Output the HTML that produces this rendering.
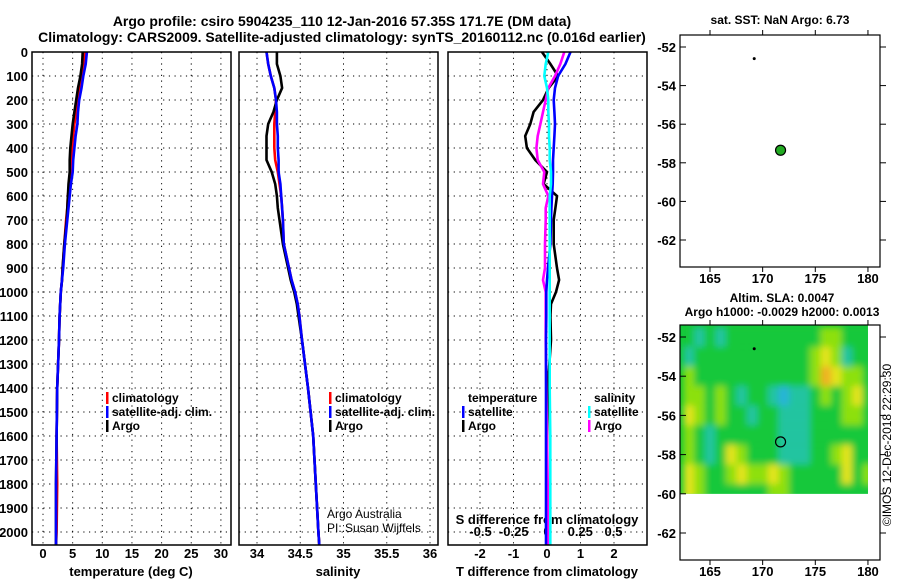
<!DOCTYPE html>
<html><head><meta charset="utf-8"><style>
html,body{margin:0;padding:0;background:#fff;}
svg{display:block;font-family:"Liberation Sans",sans-serif;}
.t{font-weight:bold;font-size:13px;fill:#000;}
</style></head><body>
<svg id="c" width="900" height="580" viewBox="0 0 900 580">
<text x="342" y="26" text-anchor="middle" class="t" style="font-size:14px">Argo profile: csiro 5904235_110 12-Jan-2016 57.35S 171.7E (DM data)</text>
<text x="342" y="42" text-anchor="middle" class="t" style="font-size:14px">Climatology: CARS2009. Satellite-adjusted climatology: synTS_20160112.nc (0.016d earlier)</text>
<g id="g"></g>
</svg>
<script>
// ---- data ----
const depthTicks=[0,100,200,300,400,500,600,700,800,900,1000,1100,1200,1300,1400,1500,1600,1700,1800,1900,2000];
const tempTicks=[0,5,10,15,20,25,30];
const salTicks=[34,34.5,35,35.5,36];
const tdiffTicks=[-2,-1,0,1,2];
const sdiffTicks=[-0.5,-0.25,0,0.25,0.5];
const depths=[0,50,100,150,200,250,300,350,400,450,500,550,600,650,700,800,900,950,1000,1050,1100,1200,1400,1600,1800,2000,2055];
const tempArgo=[6.7,6.6,6.3,5.9,5.6,5.3,5.0,4.8,4.6,4.5,4.5,4.3,4.2,4.1,4.0,3.6,3.3,3.2,3.0,2.9,2.8,2.7,2.4,2.3,2.2,2.2,2.2];
const tempClim=[7.1,6.8,6.5,6.2,5.9,5.6,5.3,5.1,4.9,4.7,4.6,4.4,4.2,4.1,3.9,3.6,3.3,3.2,3.0,2.9,2.8,2.7,2.4,2.3,2.4,2.3,2.2];
const tempSat=[7.4,7.2,6.8,6.5,6.1,5.9,5.8,5.5,5.3,5.1,5.0,4.7,4.5,4.3,4.1,3.7,3.4,3.2,3.0,2.9,2.8,2.7,2.4,2.3,2.2,2.2,2.2];
const salArgo=[34.23,34.23,34.27,34.29,34.23,34.19,34.13,34.11,34.11,34.11,34.17,34.21,34.23,34.24,34.26,34.30,34.36,34.39,34.43,34.46,34.48,34.52,34.59,34.65,34.68,34.71,34.72];
const salClim=[34.11,34.13,34.16,34.20,34.22,34.21,34.20,34.20,34.20,34.21,34.24,34.26,34.28,34.29,34.30,34.31,34.37,34.40,34.44,34.47,34.49,34.52,34.59,34.65,34.68,34.71,34.72];
const salSat=[34.11,34.13,34.16,34.20,34.22,34.23,34.23,34.24,34.24,34.25,34.25,34.27,34.28,34.29,34.30,34.31,34.37,34.40,34.44,34.47,34.49,34.52,34.59,34.65,34.68,34.71,34.72];
const dTargo=[-0.15,0.1,0.33,0.05,-0.12,-0.4,-0.5,-0.65,-0.6,-0.35,0,-0.1,0.3,0.25,0.2,0.2,0.3,0.36,0.27,0.12,0.1,0.12,0.02,0,0,0,0];
const dTsat=[0.7,0.55,0.33,0.24,0.2,0.22,0.24,0.22,0.2,0.18,0.18,0.17,0.15,0.13,0.12,0.1,0.03,0,-0.02,-0.02,-0.02,-0.03,-0.03,-0.03,-0.03,-0.03,-0.03];
const dSargo=[0.13,0.1,0.06,0.01,-0.01,-0.03,-0.05,-0.07,-0.08,-0.07,-0.02,-0.03,0.01,-0.01,-0.01,-0.015,-0.015,-0.03,-0.01,-0.01,-0.01,-0.01,-0.005,0,0.005,0.01,0.01];
const dSsat=[0.01,-0.01,-0.02,0,0.01,0.01,0.015,0.015,0.02,0.02,0.03,0.03,0.02,0.02,0.02,0.02,0.02,0.02,0.02,0.02,0.02,0.02,0.02,0.025,0.025,0.025,0.025];
const latTicks=[-52,-54,-56,-58,-60,-62];
const lonTicks=[165,170,175,180];
const heatLons=[163,164,165,166,167,168,169,170,171,172,173,174,175,176,177,178,179,180];
const heatLats=[-52,-53,-54,-55,-56,-57,-58,-59,-60];
const heatVals=[
[2,1,2,1,2,2,2,2,2,2,2,2,2,3,3,2,2,2],
[1,2,2,2,2,2,2,2,2,2,2,2,3,4,3,1,2,2],
[3,2,2,2,2,2,2,2,2,2,2,2,3,5,4,3,3,2],
[3,3,2,3,2,1,2,2,1,0,1,1,2,3,2,3,4,2],
[4,3,2,3,2,2,1,2,2,1,1,1,2,2,2,3,3,2],
[3,2,1,2,2,2,2,2,2,1,1,1,2,2,2,2,2,2],
[3,2,1,2,4,3,2,2,2,1,1,1,2,2,3,4,2,2],
[4,3,2,2,3,4,3,3,4,3,2,2,2,2,2,4,2,3],
[4,3,2,2,2,2,2,2,3,3,2,2,2,2,2,2,2,2]];
const argoLon=171.7, argoLat=-57.35, mkLon=169.2, mkLat=-52.6;
// ---- scales ----
const Y=d=>52+d*0.24;
const xT=t=>43+t*5.93, xS=s=>257+(s-34)*86.5, xdT=t=>547+t*33.5, xdS=s=>547+s*133;
const mx=l=>710+(l-165)*10.53;
const m1y=l=>47+(-52-l)*19.3, m2y=l=>337+(-52-l)*19.6;
const NS="http://www.w3.org/2000/svg", G=document.getElementById('g');
function el(tag,attrs,parent){const e=document.createElementNS(NS,tag);for(const k in attrs)e.setAttribute(k,attrs[k]);(parent||G).appendChild(e);return e;}
function txt(x,y,s,anchor,cls,size){const e=el('text',{x:x,y:y,'text-anchor':anchor||'start',class:cls||'t'});if(size)e.style.fontSize=size+'px';e.textContent=s;return e;}
const panels=[[32,231],[239,438],[448,647]];
depthTicks.forEach(d=>{const t=txt(28,Y(d)+5,String(d),'end');

});
panels.forEach((p,i)=>{
 depthTicks.forEach(d=>{if(d>0){const l=el('line',{x1:p[0],x2:p[1],y1:Y(d),y2:Y(d),stroke:'#000','stroke-dasharray':'1.2,4.5'});
 
 }});
});
function vgrid(xs,p){xs.forEach(x=>{const l=el('line',{x1:x,x2:x,y1:52,y2:545,stroke:'#000','stroke-dasharray':'1.2,4.5'});

});}
vgrid(tempTicks.map(xT),panels[0]);
vgrid(salTicks.map(xS),panels[1]);
vgrid(tdiffTicks.map(xdT),panels[2]);
function xlabels(ticks,f,y){ticks.forEach(v=>{const t=txt(f(v),y,String(v),'middle');

});}
xlabels(tempTicks,xT,558);xlabels(salTicks,xS,558);xlabels(tdiffTicks,xdT,558);
sdiffTicks.forEach(v=>{const t=txt(xdS(v),536,String(v),'middle');

});
[['temperature (deg C)',131],['salinity',338],['T difference from climatology',547]].forEach(a=>{const t=txt(a[1],576,a[0],'middle');

});
{const t=txt(547,524,'S difference from climatology','middle');

}
function line(vals,f,color,name){const pts=depths.map((d,i)=>f(vals[i]).toFixed(1)+','+Y(d).toFixed(1)).join(' ');
const p=el('polyline',{points:pts,fill:'none',stroke:color,'stroke-width':2.6});

}
line(tempClim,xT,'#f00','temp-climatology-line');line(tempArgo,xT,'#000','temp-argo-line');line(tempSat,xT,'#00f','temp-satellite-line');
line(salClim,xS,'#f00','sal-climatology-line');line(salArgo,xS,'#000','sal-argo-line');line(salSat,xS,'#00f','sal-satellite-line');
line(dTargo,xdT,'#000','tdiff-argo-line');line(dSargo,xdS,'#f0f','sdiff-argo-line');line(dTsat,xdT,'#00f','tdiff-satellite-line');line(dSsat,xdS,'#0ff','sdiff-satellite-line');
panels.forEach(p=>{const r=el('rect',{x:p[0],y:52,width:p[1]-p[0],height:493,fill:'none',stroke:'#000','stroke-width':1.5});

});
function legend(x,y,items){items.forEach((it,i)=>{if(it[1]){const r=el('rect',{x:x,y:y+i*14-10,width:2.5,height:12,fill:it[1]});

}
const t=txt(x+6,y+i*14,it[0],'start','t',12);

});}
legend(106,402,[['climatology','#f00'],['satellite-adj. clim.','#00f'],['Argo','#000']]);
legend(329,402,[['climatology','#f00'],['satellite-adj. clim.','#00f'],['Argo','#000']]);
legend(462,402,[['temperature',null],['satellite','#00f'],['Argo','#000']]);
legend(588,402,[['salinity',null],['satellite','#0ff'],['Argo','#f0f']]);
[['Argo Australia',518],['PI: Susan Wijffels',532]].forEach(a=>{const t=txt(327,a[1],a[0],'start','t',12);t.style.fontWeight='normal';

});
// ---- maps ----
const cols=['#28b4d8','#20c4a0','#14c83a','#8ee010','#e4e41c','#f0b020'];
const defs=el('defs',{});
const cp=el('clipPath',{id:'hc'},defs);el('rect',{x:680,y:325,width:mx(180)-680,height:m2y(-60)-325},cp);
const fl=el('filter',{id:'bl',x:'-10%',y:'-10%',width:'120%',height:'120%'},defs);el('feGaussianBlur',{stdDeviation:3.5},fl);
const hg=el('g',{'clip-path':'url(#hc)'});
el('rect',{x:680,y:325,width:200,height:180,fill:cols[2]},hg);
const hb=el('g',{filter:'url(#bl)'},hg);
heatLats.forEach((la,r)=>heatLons.forEach((lo,c)=>{const cell=el('rect',{x:mx(lo-0.5),y:m2y(la+0.5),width:10.6,height:19.7,fill:cols[heatVals[r][c]]},hb);

}));
function map(top,bot,yf,name,filled){
 const r=el('rect',{x:680,y:top,width:200,height:bot-top,fill:'none',stroke:'#000','stroke-width':1.2});
 
 
 latTicks.forEach(l=>{el('line',{x1:680,x2:686,y1:yf(l),y2:yf(l),stroke:'#000'});el('line',{x1:880,x2:886,y1:yf(l),y2:yf(l),stroke:'#000'});
 const t=txt(676,yf(l)+5,String(l),'end');
 
 });
 lonTicks.forEach(l=>{el('line',{x1:mx(l),x2:mx(l),y1:top,y2:top-5,stroke:'#000'});el('line',{x1:mx(l),x2:mx(l),y1:bot,y2:bot+5,stroke:'#000'});
 const t=txt(mx(l),bot+16,String(l),'middle');
 
 });
 const c=el('circle',{cx:mx(argoLon),cy:yf(argoLat),r:5,fill:filled?'#22aa22':'none',stroke:'#000','stroke-width':1.2});
 
 
 const m=el('circle',{cx:mx(mkLon),cy:yf(mkLat),r:1.5,fill:'#000'});
 
 
}
map(35,267,m1y,'sst-map-frame',true);
map(325,560,m2y,'sla-map-frame',false);
[['sat. SST: NaN Argo: 6.73',780,24],['Altim. SLA: 0.0047',782,302],['Argo h1000: -0.0029 h2000: 0.0013',782,316]].forEach(a=>{const t=txt(a[1],a[2],a[0],'middle','t',12);

});
{const t=txt(0,0,'©IMOS 12-Dec-2018 22:29:30','middle','t',12);t.style.fontWeight='normal';t.setAttribute('transform','translate(891,445) rotate(-90)');

}
</script>
</body></html>
